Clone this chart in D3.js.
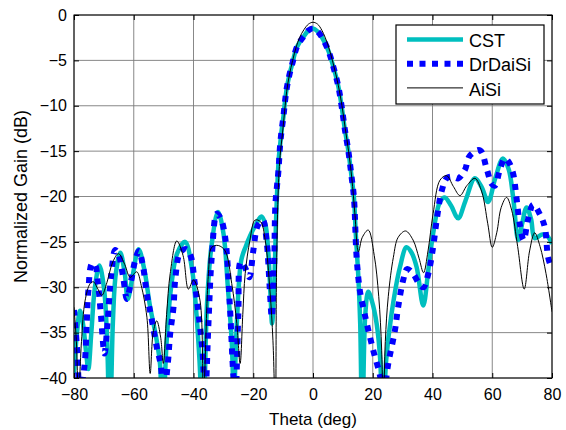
<!DOCTYPE html>
<html>
<head>
<meta charset="utf-8">
<script src="https://cdn.jsdelivr.net/npm/d3@7"></script>
<style>
    body { margin: 0; background: #fff; }
    text { font-family: "Liberation Sans", Arial, sans-serif; }
</style>
</head>
<body>
<div id="chart"></div>
<script>
// [theta (deg), normalized gain (dB)]
const cstPoints = [
    [-80,-39.5],[-79,-35],[-78,-32.6],[-77,-34],[-76,-37],[-75.2,-39],[-74.2,-35],[-73,-30],[-71.5,-27.6],
    [-70,-30],[-69,-35],[-68,-46],[-67,-34],[-66,-28.5],[-64.5,-26.2],[-63,-28.5],[-62,-31.3],[-60.5,-29],
    [-58.4,-25.8],[-56.5,-28],[-54.5,-32.2],[-52.5,-35.5],[-51.2,-38.5],[-50.4,-46],[-49,-36],[-47.5,-30],
    [-45.5,-26.3],[-42.8,-25],[-40.5,-28],[-39,-33],[-38,-38],[-36.8,-46],[-35.5,-32],[-34,-25.5],
    [-31.8,-21.7],[-30,-24],[-28.5,-30],[-27.2,-36],[-26.5,-42],[-25.5,-34],[-24,-27],[-22.5,-25.5],
    [-21,-24.3],[-19,-23],[-17.3,-22.2],[-16,-23],[-15,-26],[-14.2,-31],[-13.7,-34],[-13,-30],[-12.3,-22],
    [-11.5,-16],[-11,-14.3],[-10.5,-12.7],[-9.9,-11.2],[-9.4,-9.6],[-8.8,-8.1],[-7.9,-6.6],[-6.8,-5.2],
    [-5.7,-3.8],[-4.5,-3],[-3.2,-2.4],[-1.5,-1.7],[0,-1.5],[1.5,-1.8],[2.9,-2.4],[5.1,-3.9],[6.8,-5.7],
    [8.5,-7.9],[9.6,-10.1],[10.7,-12.7],[11.8,-14.9],[12.9,-17.8],[13.7,-20.1],[14.3,-24],[15.2,-29],
    [15.8,-34],[16.5,-46],[17.5,-33],[18.5,-30.5],[19.7,-31.5],[21.3,-34],[22.5,-38],[23.3,-46],[24.5,-38],
    [26.3,-32.9],[29.1,-27.8],[31.3,-25.6],[33,-26.2],[34.7,-27.8],[36.9,-32],[38.6,-28.1],[40.2,-24.1],
    [42.5,-20.6],[44.1,-20.1],[46.2,-21],[48.6,-22.4],[51,-20.5],[54.2,-18],[56.5,-19],[58.6,-20.6],
    [61,-18],[63.6,-15.8],[65.5,-17],[67,-20.1],[68.7,-24.8],[70,-23],[71.5,-21.2],[73,-22.5],[74.2,-24.6],
    [76.5,-24.2],[78,-24.2],[80,-25.2]
];

const drDaiSiPoints = [
    [-80,-32.5],[-79,-36.6],[-78,-42],[-77,-40],[-76.3,-38],[-75.7,-33.7],[-75.2,-30.4],[-74,-27.4],
    [-73,-27.5],[-72,-29.5],[-71,-33],[-69.8,-37.3],[-68.8,-34],[-67.5,-28.5],[-66.2,-25.9],[-65,-26.5],
    [-63.5,-29],[-62.3,-31.3],[-61,-29.5],[-59.5,-27],[-58.3,-26],[-57,-27.5],[-55.5,-31],[-54.3,-33],
    [-52.3,-36.6],[-51,-38.5],[-50,-42],[-48.6,-38.4],[-47.8,-35.1],[-46.7,-32.2],[-46.1,-29.1],
    [-44.5,-26.2],[-42.5,-25.8],[-41,-26.5],[-39.6,-29.5],[-38.3,-33],[-37,-37],[-36.1,-42],[-35,-34],
    [-33.9,-26.7],[-32.2,-21.9],[-30.8,-22.5],[-29.4,-24.5],[-27.8,-32.2],[-26.7,-39.5],[-26,-42],
    [-25,-33],[-24.2,-27.2],[-22.5,-28],[-21.3,-28.9],[-20,-26],[-18.5,-23.2],[-16.8,-22.6],[-15.5,-25],
    [-14.5,-30],[-13.8,-33.3],[-13.1,-29],[-12.6,-21],[-12.1,-19],[-11.6,-17.3],[-11,-14.3],[-10.5,-12.7],
    [-9.9,-11.2],[-9.4,-9.6],[-8.8,-8.1],[-7.9,-6.6],[-6.8,-5.2],[-5.7,-3.8],[-4.5,-3],[-3.2,-2.4],
    [-1.5,-1.7],[0,-1.5],[1.5,-1.8],[2.9,-2.4],[5.1,-3.9],[6.8,-5.7],[8.5,-7.9],[9.6,-10.1],[10.7,-12.7],
    [11.8,-14.9],[12.9,-17.8],[13.7,-20.1],[14.6,-26.7],[15.7,-30.4],[17,-32.5],[18,-34],[20.2,-37],
    [22.4,-39.7],[23.5,-42],[25.2,-38.4],[27.4,-34.8],[28.5,-32.2],[30.2,-29.2],[31.5,-28],[33.5,-28.5],
    [35.5,-29.6],[37,-30],[38.6,-28.5],[40.2,-25.6],[41.4,-22.6],[43,-19.5],[44.7,-18],[46.5,-17.8],
    [48.6,-18],[50.8,-17.1],[52.5,-15.5],[55.9,-14.9],[58.1,-16.9],[59.8,-18.6],[60.9,-18.8],[62.5,-17.1],
    [64.2,-15.8],[65.5,-16.2],[67,-17.5],[68.1,-20.1],[69.2,-23],[70.5,-24.8],[72,-22.5],[73.7,-20.9],
    [76,-22],[77.6,-23.4],[78.7,-26.7],[80,-28]
];

const aiSiPoints = [
    [-80,-32.2],[-79.2,-36],[-78.5,-42],[-77.5,-36],[-76.3,-31.5],[-74.6,-29.6],[-73.5,-29.4],[-72,-30.2],
    [-70.7,-30.9],[-69,-29.5],[-67,-27.2],[-65.1,-26.3],[-63,-27.5],[-61.2,-28.9],[-59,-28.3],[-57.5,-29.8],
    [-55.6,-33.3],[-54.5,-39.5],[-53.5,-35],[-52.3,-33.7],[-51,-35.5],[-50.1,-38.4],[-49,-33],[-47.8,-28.5],
    [-45.6,-24.9],[-43.5,-26.5],[-41.7,-30.2],[-40,-29.2],[-37.8,-31.5],[-36.7,-42],[-35,-28.5],
    [-33.9,-25.6],[-31.7,-25.4],[-29.4,-26],[-27.2,-29.6],[-25.5,-34],[-24.4,-38.4],[-23.5,-33],
    [-22.7,-28.5],[-21.1,-24.8],[-19.4,-22.6],[-17.5,-22.8],[-16,-24.8],[-14.4,-30.4],[-13.4,-35.9],
    [-12.6,-44],[-12.2,-28],[-11.6,-19],[-11,-15.5],[-10.2,-13],[-9.5,-10.6],[-8.8,-8.4],[-7.9,-6.6],
    [-6.8,-5],[-5.7,-3.6],[-4.5,-2.5],[-3,-1.6],[-1.5,-1],[0,-0.8],[1.5,-1],[3,-1.7],[5,-3.3],[6.8,-5.4],
    [8.5,-7.8],[9.7,-10],[10.8,-12.5],[11.9,-15],[13,-18],[14,-21.8],[15.2,-26.1],[16.5,-24.5],[18.5,-23.7],
    [20.5,-26.5],[22,-31],[23,-37],[23.5,-44],[24.2,-36],[25.2,-31],[26.9,-26.7],[28.5,-24.5],[31,-23.8],
    [33.5,-24.8],[35.5,-26.8],[37,-28.4],[38.5,-26],[40.2,-21.9],[42.5,-18.2],[44.7,-17.7],[47,-18.9],
    [49.2,-19.9],[51.5,-18.8],[54.2,-18],[56.5,-19.5],[58.5,-23],[60,-25.6],[61.5,-24],[63,-21.2],
    [64.8,-20.1],[66.5,-21.5],[68.5,-25.5],[70.7,-30.2],[72.5,-26],[74.2,-24],[76,-25.5],[78,-28.5],
    [80,-32.7]
];

const xTicks = [-80, -60, -40, -20, 0, 20, 40, 60, 80];
const yTicks = [-40, -35, -30, -25, -20, -15, -10, -5, 0];

class PatternChart {
    constructor(containerSelector) {
        this.containerSelector = containerSelector;
        this.margin = { top: 15, right: 14, bottom: 52, left: 74 };
        this.width = 566 - this.margin.left - this.margin.right;
        this.height = 430 - this.margin.top - this.margin.bottom;
        this.series = [];
    }

    addSeries(serie) {
        this.series = [...this.series, serie];
    }

    createCanvas() {
        const svg = d3.select(this.containerSelector)
            .append("svg")
            .attr("width", 566)
            .attr("height", 430)
            .append("g")
            .attr("transform", "translate(" + this.margin.left + "," + this.margin.top + ")");
        return svg;
    }

    renderGrid(svg, x, y) {
        svg.append("g")
            .selectAll("line")
            .data(xTicks)
            .enter().append("line")
            .attr("x1", d => x(d)).attr("x2", d => x(d))
            .attr("y1", 0).attr("y2", this.height)
            .attr("stroke", "#7a7a7a").attr("stroke-width", 0.9);

        svg.append("g")
            .selectAll("line")
            .data(yTicks)
            .enter().append("line")
            .attr("x1", 0).attr("x2", this.width)
            .attr("y1", d => y(d)).attr("y2", d => y(d))
            .attr("stroke", "#7a7a7a").attr("stroke-width", 0.9);
    }

    renderAxes(svg, x, y) {
        const bottom = svg.append("g")
            .attr("transform", "translate(0," + this.height + ")")
            .call(d3.axisBottom(x).tickValues(xTicks).tickSize(-5).tickPadding(11));
        const left = svg.append("g")
            .call(d3.axisLeft(y).tickValues(yTicks).tickSize(-5).tickPadding(7));
        const top = svg.append("g")
            .call(d3.axisTop(x).tickValues(xTicks).tickSize(-5).tickFormat(""));
        const right = svg.append("g")
            .attr("transform", "translate(" + this.width + ",0)")
            .call(d3.axisRight(y).tickValues(yTicks).tickSize(-5).tickFormat(""));

        for (const g of [bottom, left, top, right]) {
            g.select(".domain").remove();
            g.selectAll("line").attr("stroke", "#000");
            g.selectAll("text").attr("fill", "#000").style("font-size", "16px");
        }

        svg.append("rect")
            .attr("width", this.width)
            .attr("height", this.height)
            .attr("fill", "none")
            .attr("stroke", "#000")
            .attr("stroke-width", 1);

        svg.append("text")
            .attr("x", this.width / 2)
            .attr("y", this.height + 47)
            .attr("text-anchor", "middle")
            .style("font-size", "17px")
            .text("Theta (deg)");

        svg.append("text")
            .attr("transform", "translate(-47," + (this.height / 2) + ") rotate(-90)")
            .attr("text-anchor", "middle")
            .style("font-size", "18px")
            .text("Normalized Gain (dB)");
    }

    renderLine(svg, serie, x, y) {
        const line = d3.line()
            .x(d => x(d[0]))
            .y(d => y(d[1]))
            .curve(d3.curveCatmullRom.alpha(0.5));
        svg.append("path")
            .datum(serie.points)
            .attr("clip-path", "url(#plot-clip)")
            .attr("fill", "none")
            .attr("stroke", serie.color)
            .attr("stroke-width", serie.width)
            .attr("stroke-dasharray", serie.dash || null)
            .attr("d", line);
    }

    renderLegend(svg) {
        const lx = 396 - this.margin.left;
        const ly = 25 - this.margin.top;
        const legend = svg.append("g").attr("transform", "translate(" + lx + "," + ly + ")");
        legend.append("rect")
            .attr("width", 148).attr("height", 79)
            .attr("fill", "#fff").attr("stroke", "#000").attr("stroke-width", 1.2);

        legend.selectAll("line")
            .data(this.series)
            .enter().append("line")
            .attr("x1", 11).attr("x2", 67)
            .attr("y1", (_, i) => 14.5 + i * 24.2)
            .attr("y2", (_, i) => 14.5 + i * 24.2)
            .attr("stroke", d => d.color)
            .attr("stroke-width", d => d.width)
            .attr("stroke-dasharray", d => d.dash || null);

        legend.selectAll("text")
            .data(this.series)
            .enter().append("text")
            .attr("x", 73)
            .attr("y", (_, i) => 21.5 + i * 24.8)
            .style("font-size", "18px")
            .text(d => d.name);
    }

    build() {
        const svg = this.createCanvas();

        svg.append("clipPath").attr("id", "plot-clip")
            .append("rect").attr("width", this.width).attr("height", this.height);

        const x = d3.scaleLinear().domain([-80, 80]).range([0, this.width]);
        const y = d3.scaleLinear().domain([-40, 0]).range([this.height, 0]);

        this.renderGrid(svg, x, y);

        for (const serie of this.series) {
            this.renderLine(svg, serie, x, y);
        }

        this.renderAxes(svg, x, y);
        this.renderLegend(svg);
    }
}

const chart = new PatternChart("#chart");
chart.addSeries({ name: "CST", points: cstPoints, color: "#00bfbf", width: 4.5 });
chart.addSeries({ name: "DrDaiSi", points: drDaiSiPoints, color: "#0000ff", width: 6, dash: "6 6.5" });
chart.addSeries({ name: "AiSi", points: aiSiPoints, color: "#000", width: 1 });
chart.build();
</script>
</body>
</html>
